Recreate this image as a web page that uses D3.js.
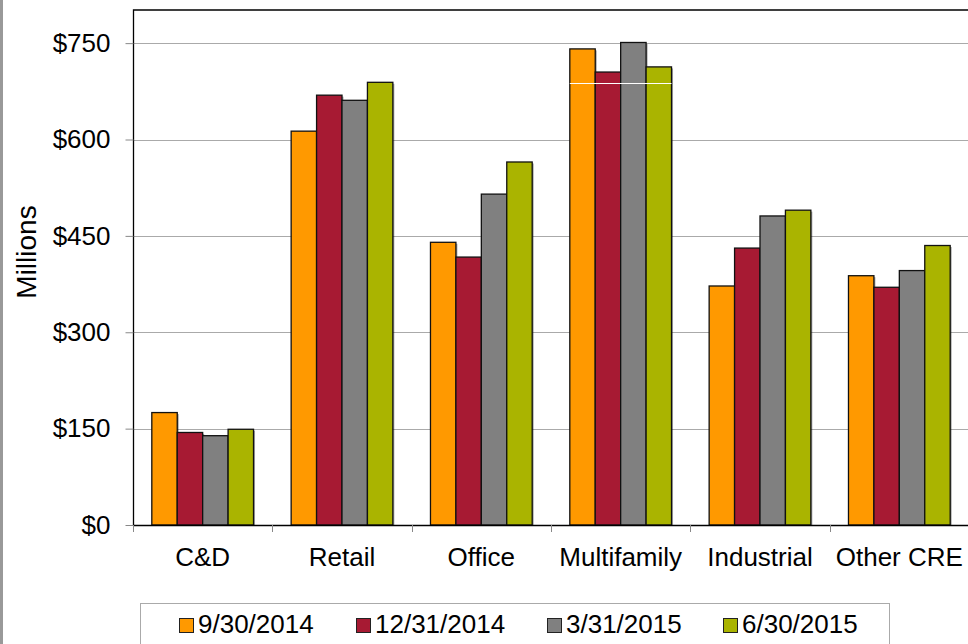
<!DOCTYPE html>
<html>
<head>
<meta charset="utf-8">
<script src="https://cdn.jsdelivr.net/npm/d3@7"></script>
<style>
  body { margin: 0; background: #fff; }
  text { font-family: "Liberation Sans", Arial, sans-serif; fill: #000; }
</style>
</head>
<body>
<script>
/* CRE loan balances by property type (millions of dollars) */
var categories = ["C&D", "Retail", "Office", "Multifamily", "Industrial", "Other CRE"];
var seriesNames = ["9/30/2014", "12/31/2014", "3/31/2015", "6/30/2015"];
var seriesColors = ["#ff9900", "#a71a33", "#808080", "#aab400"];
var q3_2014 = [175, 613, 440, 741, 372, 388];
var q4_2014 = [144, 669, 417, 705, 431, 370];
var q1_2015 = [139, 661, 515, 751, 481, 396];
var q2_2015 = [149, 689, 565, 713, 490, 435];
var seriesValues = [q3_2014, q4_2014, q1_2015, q2_2015];
var yTicks = [0, 150, 300, 450, 600, 750];

var width = 968,
    height = 644;

var svg = d3.select("body").append("svg")
    .attr("width", width)
    .attr("height", height);

// gray frame strip on the left edge
svg.append("rect")
    .attr("x", 0).attr("y", 0)
    .attr("width", 3).attr("height", height)
    .attr("fill", "#999");

var left_x = 133,
    right_x = 969,
    top_y = 11,
    bottom_y = 525;

var xScale = d3.scaleBand()
    .domain(categories)
    .range([left_x, right_x])
    .paddingInner(0)
    .paddingOuter(0);

var groupPad = 0.135;
var xInner = d3.scaleBand()
    .domain(seriesNames)
    .range([xScale.bandwidth() * groupPad, xScale.bandwidth() * (1 - groupPad)]);

var yScale = d3.scaleLinear()
    .domain([0, 800])
    .range([bottom_y, top_y]);

// gridlines
svg.append("g")
    .selectAll("line")
    .data(yTicks.filter(function(d) { return d > 0; }))
    .enter()
    .append("line")
    .attr("x1", left_x).attr("x2", right_x)
    .attr("y1", function(d) { return Math.round(yScale(d)) + 0.5; })
    .attr("y2", function(d) { return Math.round(yScale(d)) + 0.5; })
    .attr("stroke", "#aaa")
    .attr("stroke-width", 1);

// bars
var groups = svg.selectAll("g.cat")
    .data(categories)
    .enter()
    .append("g")
    .attr("class", "cat")
    .attr("transform", function(d) { return "translate(" + xScale(d) + ",0)"; });

groups.each(function(cat, ci) {
    var g = d3.select(this);
    var rows = seriesNames.map(function(s, si) {
        return { name: s, value: seriesValues[si][ci], color: seriesColors[si] };
    });
    // soft shadow
    g.selectAll("rect.shadow")
        .data(rows)
        .enter()
        .append("rect")
        .attr("class", "shadow")
        .attr("x", function(d) { return xInner(d.name) + 1.5; })
        .attr("y", function(d) { return yScale(d.value) + 1.5; })
        .attr("width", xInner.bandwidth())
        .attr("height", function(d) { return bottom_y - yScale(d.value) - 1.5; })
        .attr("fill", "#000")
        .attr("opacity", 0.35);
    g.selectAll("rect.bar")
        .data(rows)
        .enter()
        .append("rect")
        .attr("class", "bar")
        .attr("x", function(d) { return xInner(d.name); })
        .attr("y", function(d) { return yScale(d.value); })
        .attr("width", xInner.bandwidth())
        .attr("height", function(d) { return bottom_y - yScale(d.value); })
        .attr("fill", function(d) { return d.color; })
        .attr("stroke", "#111")
        .attr("stroke-width", 1.3);
});

// odd white rule across the Multifamily bars
svg.append("line")
    .attr("x1", xScale("Multifamily") + xInner("9/30/2014"))
    .attr("x2", xScale("Multifamily") + xInner("6/30/2015") + xInner.bandwidth())
    .attr("y1", 83.5).attr("y2", 83.5)
    .attr("stroke", "#fff").attr("stroke-width", 1.2);

// plot frame (left + top)
svg.append("path")
    .attr("d", "M" + (left_x + 0.5) + "," + bottom_y + "V" + (top_y - 1) + "H" + right_x)
    .attr("fill", "none")
    .attr("stroke", "#000")
    .attr("stroke-width", 1.3);

// y axis
var yAxis = d3.axisLeft(yScale)
    .tickValues(yTicks)
    .tickSize(8)
    .tickPadding(15)
    .tickFormat(function(d) { return "$" + d; });

var yg = svg.append("g")
    .attr("transform", "translate(" + (left_x + 0.5) + ",0)")
    .call(yAxis);
yg.select(".domain").remove();
yg.selectAll(".tick line").attr("stroke", "#888");
yg.selectAll("text")
    .attr("font-size", "26px")
    .attr("font-family", "Liberation Sans, Arial, sans-serif")
    .attr("fill", "#000");

// x axis
svg.append("line")
    .attr("x1", left_x).attr("x2", right_x)
    .attr("y1", bottom_y + 0.5).attr("y2", bottom_y + 0.5)
    .attr("stroke", "#000").attr("stroke-width", 1.3);

var boundaries = categories.map(function(c) { return xScale(c); }).concat([right_x - 0.5]);
svg.append("g")
    .selectAll("line")
    .data(boundaries)
    .enter()
    .append("line")
    .attr("x1", function(d) { return Math.round(d) + 0.5; })
    .attr("x2", function(d) { return Math.round(d) + 0.5; })
    .attr("y1", bottom_y).attr("y2", bottom_y + 7)
    .attr("stroke", "#888");

svg.append("g")
    .selectAll("text")
    .data(categories)
    .enter()
    .append("text")
    .attr("x", function(d) { return xScale(d) + xScale.bandwidth() / 2; })
    .attr("y", 566)
    .attr("text-anchor", "middle")
    .attr("font-size", "26px")
    .text(function(d) { return d; });

// y label
svg.append("text")
    .attr("transform", "translate(36,252) rotate(-90)")
    .attr("text-anchor", "middle")
    .attr("font-size", "28px")
    .text("Millions");

// legend
svg.append("rect")
    .attr("x", 140.5).attr("y", 603.5)
    .attr("width", 749).attr("height", 50)
    .attr("fill", "#fff")
    .attr("stroke", "#aaa");

var legendX = [179, 356, 547, 723];
var legend = svg.selectAll("g.legend")
    .data(seriesNames)
    .enter()
    .append("g")
    .attr("class", "legend")
    .attr("transform", function(d, i) { return "translate(" + legendX[i] + ",618)"; });

legend.append("rect")
    .attr("x", 0.5).attr("y", 0.5)
    .attr("width", 14).attr("height", 14)
    .attr("fill", function(d, i) { return seriesColors[i]; })
    .attr("stroke", "#222");

legend.append("text")
    .attr("x", 19)
    .attr("y", 15)
    .attr("font-size", "26px")
    .text(function(d) { return d; });
</script>
</body>
</html>
